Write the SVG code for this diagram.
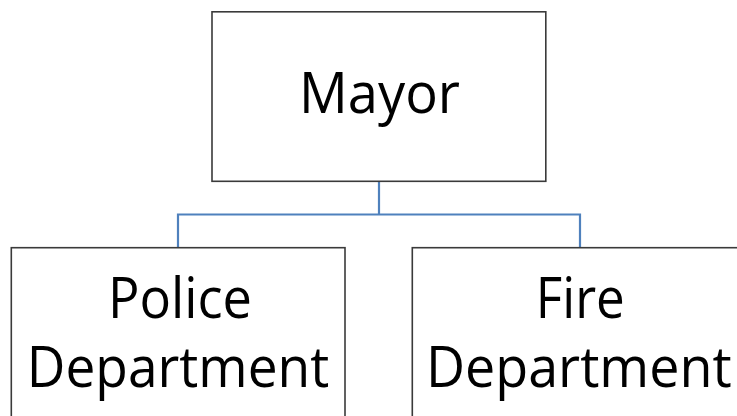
<svg xmlns="http://www.w3.org/2000/svg" width="737" height="416" viewBox="0 0 737 416">
<style>
.box{fill:#ffffff;stroke:#3a3a3a;stroke-width:1.6}
.lbl{font-family:"Open Sans","Noto Sans",sans-serif;font-size:56px;fill:#000000;text-anchor:middle}
.conn{fill:none;stroke:#4f81bd;stroke-width:2.2}
</style>
<rect width="737" height="416" fill="#ffffff"/>
<g id="connectors">
<path class="conn" d="M379 181.5V214.5M178 247.5V214.5H580V247.5"/>
</g>
<g id="mayor">
<rect class="box" x="212" y="11.8" width="333.8" height="169.5"/>
<text class="lbl" x="379.5" y="113.3" textLength="161" lengthAdjust="spacingAndGlyphs">Mayor</text>
</g>
<g id="police">
<rect class="box" x="11.3" y="247.7" width="333.7" height="180"/>
<text class="lbl" x="180" y="317.7" textLength="144" lengthAdjust="spacingAndGlyphs">Police</text>
<text class="lbl" x="178" y="387.3" textLength="302.5" lengthAdjust="spacingAndGlyphs">Department</text>
</g>
<g id="fire">
<rect class="box" x="412.3" y="247.7" width="333.7" height="180"/>
<text class="lbl" x="580.3" y="317.7" textLength="89" lengthAdjust="spacingAndGlyphs">Fire</text>
<text class="lbl" x="578.8" y="387.3" textLength="305.7" lengthAdjust="spacingAndGlyphs">Department</text>
</g>
</svg>
